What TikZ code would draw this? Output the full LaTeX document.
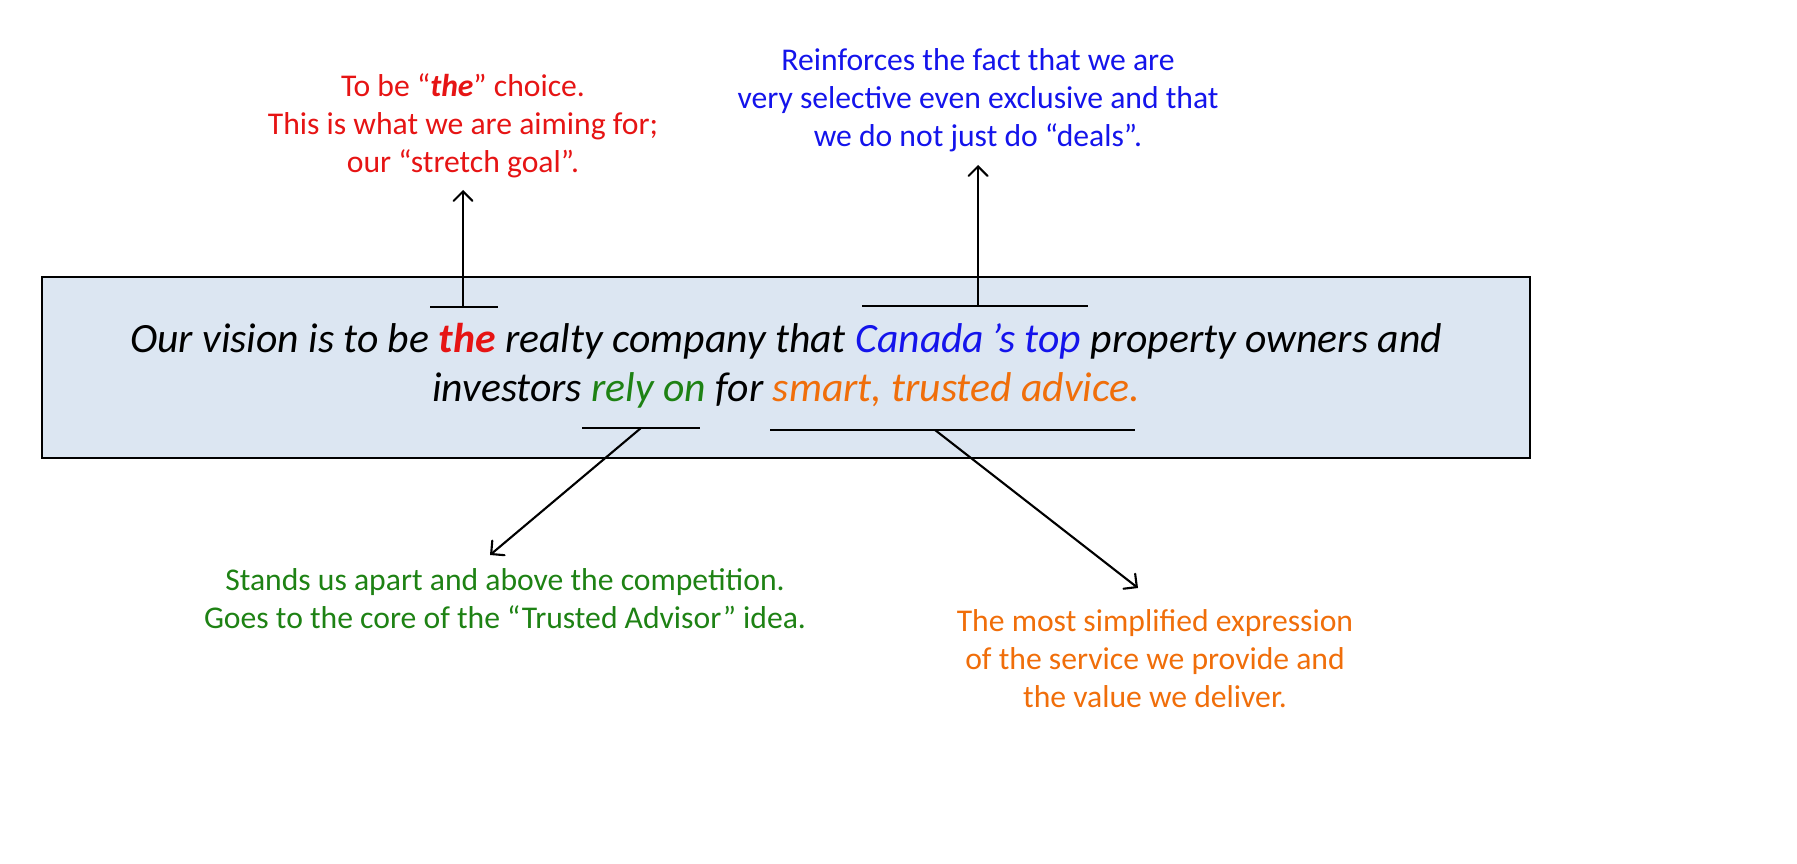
\documentclass[tikz,border=0pt]{standalone}
\usepackage{fontspec}
\setmainfont{Carlito}
\usetikzlibrary{arrows}
\definecolor{boxfill}{RGB}{220,230,242}
\definecolor{vred}{RGB}{230,20,20}
\definecolor{vblue}{RGB}{20,20,235}
\definecolor{vgreen}{RGB}{30,130,20}
\definecolor{vorange}{RGB}{240,110,10}
\begin{document}
\begin{tikzpicture}[x=0.01cm, y=-0.01cm, ->, >=angle 90, semithick]
        \tikzstyle{note}=[align=center, font=\fontsize{9}{10.8}\selectfont]
        \tikzstyle{underline}=[-, thick]
        \useasboundingbox (0,0) rectangle (1797,864);

        \draw[-, thick, fill=boxfill] (42,277) rectangle (1530,458);
        \node[align=center, font=\fontsize{11.85}{13.8}\selectfont\itshape] (vision) at (786,366)
            {Our vision is to be \textcolor{vred}{\textbf{the}} realty company that \textcolor{vblue}{Canada\,’s top} property owners and\\
             investors \textcolor{vgreen}{rely on} for \textcolor{vorange}{smart, trusted advice.}};

        % underlines
        \coordinate (theL) at (430,307);   \coordinate (theR) at (498,307);   \coordinate (theM) at (463,307);
        \coordinate (topL) at (862,306);   \coordinate (topR) at (1088,306);  \coordinate (topM) at (978,306);
        \coordinate (relyL) at (582,428);  \coordinate (relyR) at (700,428);  \coordinate (relyM) at (641,428);
        \coordinate (advL) at (770,430);   \coordinate (advR) at (1135,430);  \coordinate (advM) at (935,430);
        \draw[underline] (theL) -- (theR);
        \draw[underline] (topL) -- (topR);
        \draw[underline] (relyL) -- (relyR);
        \draw[underline] (advL) -- (advR);

        % notes
        \node[note, text=vred] (choice) at (463,126)
            {To be “\textbf{\textit{the}}” choice.\\ This is what we are aiming for;\\ our “stretch goal”.};
        \node[note, text=vblue] (select) at (978,100)
            {Reinforces the fact that we are\\ very selective even exclusive and that\\ we do not just do “deals”.};
        \node[note, text=vgreen] (apart) at (505,599)
            {Stands us apart and above the competition.\\ Goes to the core of the “Trusted Advisor” idea.};
        \node[note, text=vorange] (value) at (1155,659)
            {The most simplified expression\\ of the service we provide and\\ the value we deliver.};

        \coordinate (choiceT) at (463,190);
        \coordinate (selectT) at (978,165);
        \coordinate (apartT) at (490,555);
        \coordinate (valueT) at (1138,588);
        \draw (theM) -- (choiceT);
        \draw (topM) -- (selectT);
        \draw (relyM) -- (apartT);
        \draw (advM) -- (valueT);
\end{tikzpicture}
\end{document}
